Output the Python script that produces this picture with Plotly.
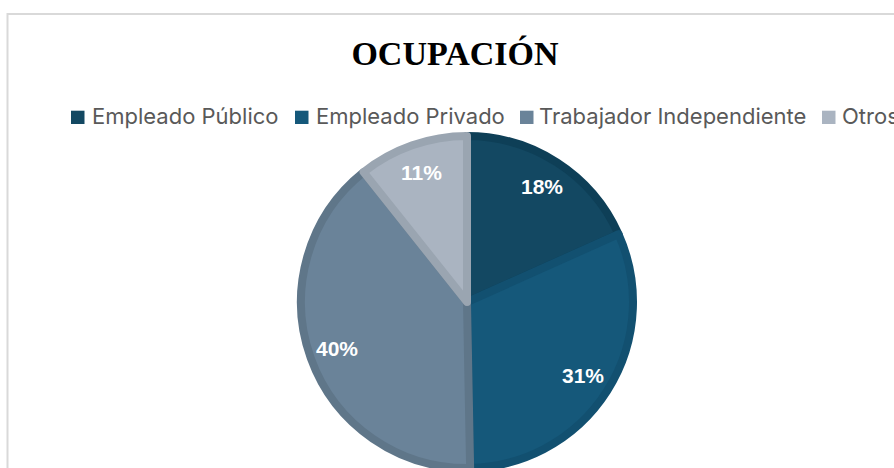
import math
import plotly.graph_objects as go

# ---- data ----
categories = ["Empleado Público", "Empleado Privado", "Trabajador Independiente", "Otros"]
values = [18.3, 31.4, 39.6, 10.7]
pct_labels = ["18%", "31%", "40%", "11%"]
fill_colors = ["#134862", "#15587a", "#6a8399", "#aab4c1"]
edge_colors = ["#0e3f57", "#125070", "#5f7689", "#9aa5b1"]
title_text = "OCUPACIÓN"

# ---- layout constants (pixels) ----
W, H = 894, 468
CX, CY, R = 467, 302, 166               # pie centre and radius
LEGEND_SQ_X = [71, 295, 520, 822]       # legend swatch left edges
LEGEND_TXT_X = [92, 316, 539, 842]      # legend text left edges
LEGEND_SQ_Y = (110.7, 124)
LEGEND_TXT_Y = 115.5
SQ = 13.5


def px_x(x):
    return x / W


def px_y(y):
    return 1 - y / H


fig = go.Figure()
fig.add_trace(go.Pie(
    labels=categories,
    values=values,
    sort=False,
    direction="clockwise",
    rotation=0,
    textinfo="none",
    hoverinfo="label+percent",
    marker=dict(colors=fill_colors, line=dict(color=edge_colors, width=8)),
    domain=dict(x=[px_x(CX - R), px_x(CX + R)], y=[px_y(CY + R), px_y(CY - R)]),
    showlegend=False,
))

annotations = []
# percentage labels positioned from the data (mid angle of each slice)
total = sum(values)
cum = 0.0
for v, lab in zip(values, pct_labels):
    mid = (cum + v / 2) / total * 2 * math.pi
    cum += v
    rl = 0.81 * (R + 4)
    annotations.append(dict(
        x=px_x(CX + rl * math.sin(mid)), y=px_y(CY - rl * math.cos(mid)),
        xref="paper", yref="paper",
        text="<b>%s</b>" % lab, showarrow=False,
        font=dict(family="Liberation Sans, Arial, sans-serif", size=21, color="white"),
        xanchor="center", yanchor="middle",
    ))

shapes = [dict(
    type="rect", xref="paper", yref="paper",
    x0=px_x(7.5), x1=1.2, y0=-0.2, y1=px_y(14),
    line=dict(color="#d9d9d9", width=2), fillcolor="rgba(0,0,0,0)", layer="below",
)]

# legend row (clipped at the right edge like the reference)
for cat, col, sx, tx in zip(categories, fill_colors, LEGEND_SQ_X, LEGEND_TXT_X):
    shapes.append(dict(
        type="rect", xref="paper", yref="paper",
        x0=px_x(sx), x1=px_x(sx + SQ), y0=px_y(LEGEND_SQ_Y[1]), y1=px_y(LEGEND_SQ_Y[0]),
        line=dict(width=0), fillcolor=col,
    ))
    annotations.append(dict(
        x=px_x(tx - 2), y=px_y(LEGEND_TXT_Y), xref="paper", yref="paper",
        text=cat, showarrow=False, align="left",
        font=dict(family="Inter, Open Sans, sans-serif", size=22, color="#595959"),
        xanchor="left", yanchor="middle",
    ))

fig.update_layout(
    width=W, height=H,
    margin=dict(l=0, r=0, t=0, b=0),
    paper_bgcolor="white",
    plot_bgcolor="white",
    title=dict(
        text="<b>%s</b>" % title_text,
        x=px_x(455), xanchor="center", y=px_y(53), yanchor="middle",
        font=dict(family="Liberation Serif, Times New Roman, serif", size=34, color="black"),
    ),
    annotations=annotations,
    shapes=shapes,
)

fig.write_html(
    "out.html",
    config={"displayModeBar": False},
    post_script="document.body.style.margin='0';document.body.style.overflow='hidden';",
)
